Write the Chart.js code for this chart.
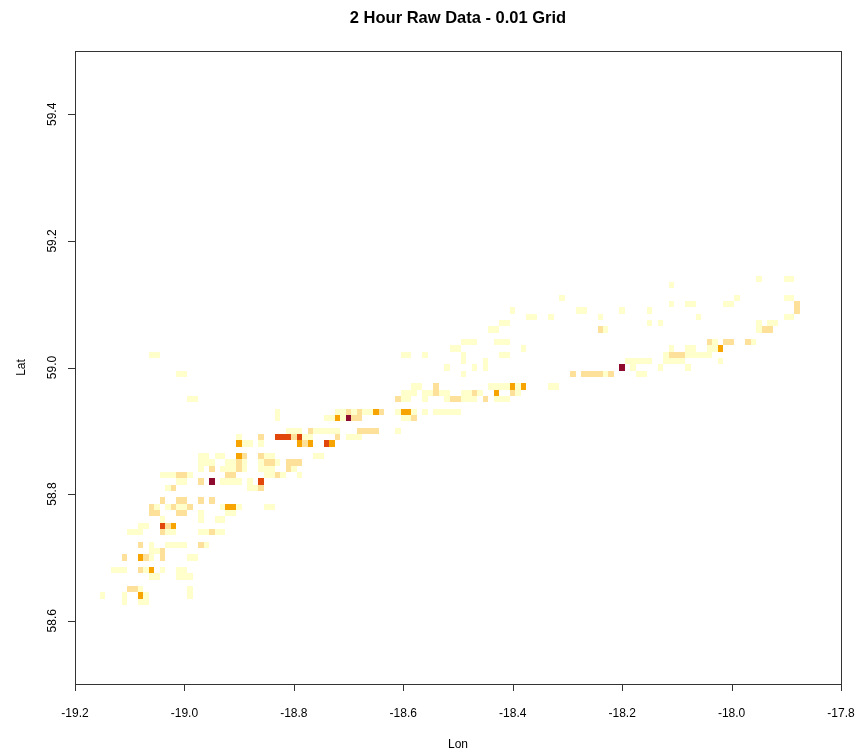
<!DOCTYPE html>
<html>
<head>
<meta charset="utf-8">
<title>2 Hour Raw Data - 0.01 Grid</title>
<script src="https://cdn.jsdelivr.net/npm/chart.js@4.4.0/dist/chart.umd.min.js"></script>
<style>
    html, body { margin: 0; padding: 0; background: #ffffff; }
    #wrap { width: 859px; height: 754px; }
</style>
</head>
<body>
<div id="wrap"><canvas id="gridChart" width="859" height="754"></canvas></div>
<script>
// Grid rows (cell centre latitude), the longitudes of filled cells in each row,
// and the count class of each cell (1 = lowest, 5 = highest)
const gridLat = [59.14, 59.13, 59.11, 59.10, 59.09, 59.08, 59.07, 59.06, 59.04, 59.03,
    59.02, 59.01, 59.00, 58.99, 58.97, 58.96, 58.95, 58.93, 58.92, 58.90,
    58.89, 58.88, 58.86, 58.85, 58.84, 58.83, 58.82, 58.81, 58.79, 58.78,
    58.77, 58.76, 58.75, 58.74, 58.72, 58.71, 58.70, 58.68, 58.67, 58.65,
    58.64, 58.63];

const gridLon = [
    [-17.95, -17.90, -17.89],
    [-18.11],
    [-18.31, -17.99, -17.90, -17.89],
    [-18.11, -18.08, -18.07, -18.01, -18.00, -17.88],
    [-18.40, -18.28, -18.27, -18.20, -18.15, -17.88],
    [-18.37, -18.36, -18.33, -18.24, -18.06, -17.90, -17.89],
    [-18.42, -18.41, -18.15, -18.13, -17.95, -17.93, -17.92],
    [-18.44, -18.43, -18.24, -18.23, -17.95, -17.94, -17.93],
    [-18.49, -18.48, -18.47, -18.43, -18.42, -18.41, -18.04, -18.03, -18.01, -18.00, -17.97, -17.96],
    [-18.51, -18.50, -18.38, -18.11, -18.08, -18.07, -18.04, -18.03, -18.02],
    [-19.06, -19.05, -18.60, -18.59, -18.56, -18.49, -18.42, -18.41, -18.12, -18.11, -18.10, -18.09, -18.08, -18.07, -18.06, -18.05, -18.04],
    [-18.49, -18.45, -18.19, -18.18, -18.17, -18.16, -18.15, -18.12, -18.11, -18.10, -18.09, -18.02],
    [-18.52, -18.47, -18.45, -18.20, -18.18, -18.13, -18.08],
    [-19.01, -19.00, -18.49, -18.29, -18.27, -18.26, -18.25, -18.24, -18.23, -18.22, -18.17, -18.16],
    [-18.58, -18.57, -18.54, -18.44, -18.43, -18.42, -18.41, -18.40, -18.39, -18.38, -18.33, -18.32],
    [-18.60, -18.59, -18.58, -18.56, -18.55, -18.54, -18.53, -18.52, -18.49, -18.48, -18.47, -18.46, -18.43, -18.40, -18.39],
    [-18.99, -18.98, -18.61, -18.60, -18.59, -18.56, -18.52, -18.51, -18.50, -18.49, -18.48, -18.47, -18.45, -18.43, -18.42, -18.41],
    [-18.83, -18.72, -18.71, -18.70, -18.69, -18.68, -18.67, -18.66, -18.65, -18.64, -18.61, -18.60, -18.59, -18.58, -18.56, -18.54, -18.53, -18.52, -18.51, -18.50],
    [-18.83, -18.74, -18.73, -18.72, -18.71, -18.70, -18.69, -18.68, -18.60, -18.59, -18.58],
    [-18.81, -18.80, -18.79, -18.77, -18.76, -18.75, -18.74, -18.73, -18.72, -18.68, -18.67, -18.66, -18.65, -18.61],
    [-18.90, -18.86, -18.83, -18.82, -18.81, -18.80, -18.79, -18.78, -18.77, -18.72, -18.70, -18.69, -18.68],
    [-18.90, -18.89, -18.88, -18.86, -18.79, -18.78, -18.77, -18.74, -18.73],
    [-18.97, -18.96, -18.94, -18.93, -18.90, -18.89, -18.86, -18.85, -18.84, -18.76, -18.75],
    [-18.97, -18.96, -18.95, -18.92, -18.91, -18.90, -18.89, -18.86, -18.85, -18.84, -18.83, -18.81, -18.80, -18.79],
    [-18.97, -18.95, -18.93, -18.92, -18.91, -18.90, -18.89, -18.86, -18.85, -18.84, -18.81, -18.80],
    [-19.04, -19.03, -19.02, -19.01, -19.00, -18.99, -18.92, -18.91, -18.85, -18.84, -18.83, -18.82, -18.79],
    [-19.01, -19.00, -18.97, -18.95, -18.93, -18.92, -18.91, -18.90, -18.88, -18.86],
    [-19.03, -19.02, -18.88, -18.87, -18.86],
    [-19.04, -19.01, -19.00, -18.97, -18.95],
    [-19.06, -19.05, -19.03, -19.02, -19.01, -19.00, -18.99, -18.93, -18.92, -18.91, -18.90, -18.85, -18.84],
    [-19.06, -19.05, -19.01, -19.00, -18.97, -18.92, -18.91],
    [-19.04, -18.97, -18.94, -18.93],
    [-19.08, -19.07, -19.04, -19.03, -19.02],
    [-19.10, -19.09, -19.08, -19.04, -19.03, -19.02, -18.97, -18.96, -18.95, -18.94, -18.93],
    [-19.08, -19.06, -19.03, -19.02, -19.01, -19.00, -18.97, -18.96],
    [-19.06, -19.05, -19.04],
    [-19.11, -19.08, -19.07, -19.06, -19.04, -18.99, -18.98],
    [-19.13, -19.12, -19.11, -19.08, -19.07, -19.06, -19.04, -19.01, -19.00],
    [-19.06, -19.05, -19.01, -19.00, -18.99],
    [-19.10, -19.09, -19.08, -18.99],
    [-19.15, -19.11, -19.08, -19.07, -18.99],
    [-19.11, -19.08, -19.07]
];

const gridLevel = [
    [1, 1, 1],
    [1],
    [1, 1, 1, 1],
    [1, 1, 1, 1, 1, 2],
    [1, 1, 1, 1, 1, 2],
    [1, 1, 1, 1, 1, 1, 1],
    [1, 1, 1, 1, 1, 1, 1],
    [1, 1, 2, 1, 1, 2, 2],
    [1, 1, 1, 1, 1, 1, 2, 1, 2, 2, 2, 1],
    [1, 1, 1, 1, 1, 1, 1, 1, 3],
    [1, 1, 1, 1, 1, 1, 1, 1, 1, 2, 2, 2, 1, 1, 1, 1, 1],
    [1, 1, 1, 1, 1, 1, 1, 1, 1, 1, 1, 1],
    [1, 1, 1, 5, 1, 1, 1],
    [1, 1, 1, 2, 2, 2, 2, 2, 1, 2, 1, 1],
    [1, 1, 2, 1, 1, 1, 1, 3, 1, 3, 1, 1],
    [1, 1, 1, 1, 1, 2, 1, 1, 1, 1, 2, 1, 3, 2, 1],
    [1, 1, 2, 1, 1, 1, 1, 2, 2, 1, 1, 1, 2, 1, 1, 1],
    [1, 1, 1, 2, 1, 2, 1, 1, 3, 2, 1, 3, 3, 1, 1, 1, 1, 1, 1, 1],
    [1, 1, 1, 3, 1, 5, 2, 2, 1, 1, 2],
    [1, 1, 1, 2, 1, 1, 1, 1, 1, 2, 2, 2, 2, 1],
    [1, 2, 4, 4, 4, 2, 4, 1, 1, 2, 1, 1, 1],
    [3, 1, 1, 1, 3, 2, 3, 4, 3],
    [1, 1, 1, 1, 3, 2, 2, 1, 1, 1, 1],
    [1, 1, 1, 1, 1, 2, 1, 1, 2, 2, 1, 2, 2, 2],
    [1, 2, 1, 1, 1, 2, 1, 1, 1, 1, 2, 1],
    [1, 1, 1, 2, 2, 1, 2, 2, 1, 1, 2, 1, 1],
    [1, 1, 2, 5, 1, 1, 1, 1, 1, 4],
    [1, 2, 1, 1, 2],
    [2, 2, 2, 2, 2],
    [2, 1, 1, 2, 1, 1, 2, 1, 3, 3, 1, 1, 1],
    [2, 2, 2, 2, 1, 1, 1],
    [1, 1, 1, 1],
    [1, 1, 4, 2, 3],
    [1, 1, 1, 2, 1, 1, 1, 1, 2, 1, 1],
    [2, 1, 1, 1, 1, 1, 2, 1],
    [1, 1, 2],
    [2, 3, 2, 1, 2, 1, 1],
    [1, 1, 1, 2, 1, 3, 1, 1, 1],
    [1, 1, 1, 1, 1],
    [2, 2, 1, 1],
    [1, 1, 3, 1, 1],
    [1, 1, 1]
];

const levelColors = ['#FFFFCC', '#FDE19B', '#F7A400', '#E1470B', '#8E0A2F'];

// Axis ticks
const xTicks = [-19.2, -19.0, -18.8, -18.6, -18.4, -18.2, -18.0, -17.8];
const yTicks = [58.6, 58.8, 59.0, 59.2, 59.4];
const xTickLabels = ['-19.2', '-19.0', '-18.8', '-18.6', '-18.4', '-18.2', '-18.0', '-17.8'];
const yTickLabels = ['58.6', '58.8', '59.0', '59.2', '59.4'];

const cellSize = 0.01;
const axisFont = '12px "Liberation Sans", Arial, sans-serif';

function buildDatasets() {
    const sets = levelColors.map((color, i) => ({
        label: 'class ' + (i + 1),
        data: [],
        backgroundColor: color,
        pointRadius: 0
    }));

    gridLat.forEach((lat, r) => {
        gridLon[r].forEach((lon, j) => {
            sets[gridLevel[r][j] - 1].data.push({ x: lon, y: lat });
        });
    });

    return sets;
}

// Draw each point as one grid cell, sized through the scales
const cellPlugin = {
    id: 'gridCells',
    beforeDatasetsDraw(chart) {
        const ctx = chart.ctx;
        const xs = chart.scales.x;
        const ys = chart.scales.y;
        const half = cellSize / 2;

        ctx.save();
        chart.data.datasets.forEach(ds => {
            ctx.fillStyle = ds.backgroundColor;
            ds.data.forEach(p => {
                const x0 = Math.round(xs.getPixelForValue(p.x - half));
                const x1 = Math.round(xs.getPixelForValue(p.x + half));
                const y0 = Math.round(ys.getPixelForValue(p.y - half));
                const y1 = Math.round(ys.getPixelForValue(p.y + half));
                ctx.fillRect(x0, y1, x1 - x0, y0 - y1);
            });
        });
        ctx.restore();
    }
};

// R style frame, ticks and titles
const framePlugin = {
    id: 'rFrame',
    afterDraw(chart) {
        const ctx = chart.ctx;
        const area = chart.chartArea;
        const xs = chart.scales.x;
        const ys = chart.scales.y;

        ctx.save();
        ctx.strokeStyle = '#333333';
        ctx.lineWidth = 1;
        ctx.strokeRect(area.left + 0.5, area.top + 0.5, area.right - area.left, area.bottom - area.top);

        ctx.fillStyle = '#000000';
        ctx.font = axisFont;

        // x axis
        ctx.beginPath();
        xTicks.forEach(v => {
            const px = Math.round(xs.getPixelForValue(v)) + 0.5;
            ctx.moveTo(px, area.bottom);
            ctx.lineTo(px, area.bottom + 7);
        });
        ctx.stroke();
        ctx.textAlign = 'center';
        ctx.textBaseline = 'alphabetic';
        xTicks.forEach((v, i) => {
            ctx.fillText(xTickLabels[i], xs.getPixelForValue(v), area.bottom + 33);
        });

        // y axis
        ctx.beginPath();
        yTicks.forEach(v => {
            const py = Math.round(ys.getPixelForValue(v)) + 0.5;
            ctx.moveTo(area.left, py);
            ctx.lineTo(area.left - 7, py);
        });
        ctx.stroke();
        yTicks.forEach((v, i) => {
            ctx.save();
            ctx.translate(area.left - 19, ys.getPixelForValue(v));
            ctx.rotate(-Math.PI / 2);
            ctx.fillText(yTickLabels[i], 0, 0);
            ctx.restore();
        });

        // axis titles
        const midX = (area.left + area.right) / 2;
        const midY = (area.top + area.bottom) / 2;
        ctx.fillText('Lon', midX, area.bottom + 64);
        ctx.save();
        ctx.translate(25, midY);
        ctx.rotate(-Math.PI / 2);
        ctx.fillText('Lat', 0, 0);
        ctx.restore();

        // main title
        ctx.font = 'bold 16.5px "Liberation Sans", Arial, sans-serif';
        ctx.fillText('2 Hour Raw Data - 0.01 Grid', midX, 23);
        ctx.restore();
    }
};

document.addEventListener('DOMContentLoaded', function () {
    const ctx = document.getElementById('gridChart').getContext('2d');
    new Chart(ctx, {
        type: 'scatter',
        data: { datasets: buildDatasets() },
        options: {
            responsive: false,
            animation: false,
            devicePixelRatio: 1,
            layout: {
                padding: { left: 75, top: 51, right: 18, bottom: 70 }
            },
            scales: {
                x: { type: 'linear', min: -19.2, max: -17.8, display: false },
                y: { type: 'linear', min: 58.5, max: 59.5, display: false }
            },
            plugins: {
                legend: { display: false },
                tooltip: { enabled: false }
            }
        },
        plugins: [cellPlugin, framePlugin]
    });
});
</script>
</body>
</html>
